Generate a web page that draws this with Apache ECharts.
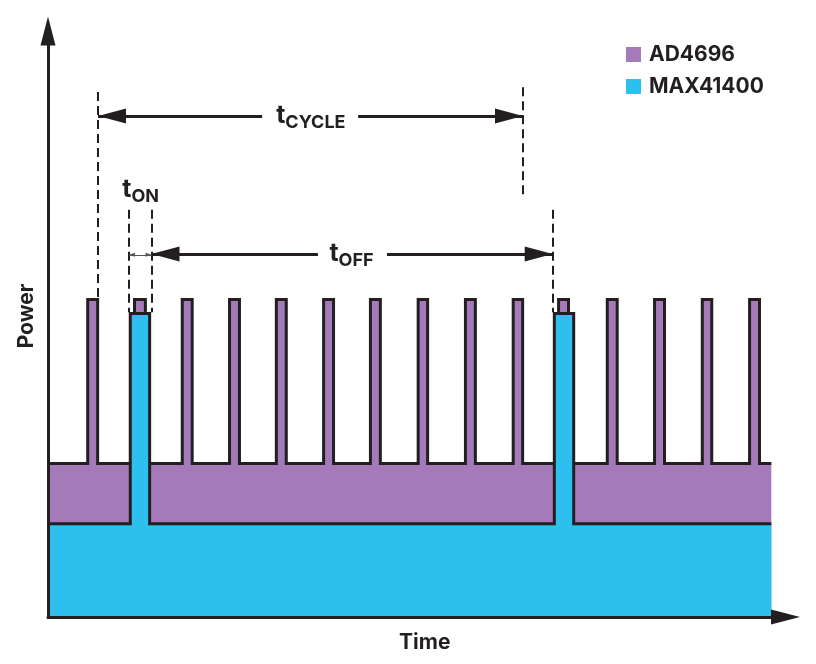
<!DOCTYPE html>
<html>
<head>
<meta charset="utf-8">
<script src="https://cdn.jsdelivr.net/npm/echarts@6/dist/echarts.min.js"></script>
<style>
html,body{margin:0;padding:0;background:#fff;}
#chart{width:816px;height:664px;}
</style>
</head>
<body>
<div id="chart"></div>
<script>
// ---- data (time in arbitrary units, power in arbitrary units) ----
const seriesNames = ['AD4696', 'MAX41400'];
const timeEnd = 153;
const ad4696Levels = [26.2, 54.2];          // [idle total, conversion total]
const ad4696PulseStart = [8.4, 18.3, 28.4, 38.4, 48.3, 58.3, 68.2, 78.3, 88.3, 98.4, 108.0, 118.3, 128.3, 138.4, 148.4];
const ad4696PulseEnd   = [10.5, 20.6, 30.5, 40.5, 50.4, 60.4, 70.3, 80.3, 90.4, 100.4, 110.1, 120.4, 130.4, 140.4, 150.5];
const max41400Levels = [15.9, 51.8];        // [off, on]
const max41400PulseStart = [17.4, 107.1];
const max41400PulseEnd   = [21.5, 111.2];

// annotation geometry (data units)
const dashedLines = [
  [10.58, 89.6, 54.4],   // x, yTop, yBottom  (tCYCLE start)
  [100.47, 90.4, 72.0],  // tCYCLE end
  [17.13, 69.5, 52.0],   // tON start
  [21.89, 69.5, 52.0],   // tON end / tOFF start
  [106.75, 69.5, 52.0]   // tOFF end
];
const tCycle = {from: 10.58, to: 100.47, y: 85.5, gap: [45.3, 65.6], label: [55.6, 85.6], sub: 'CYCLE'};
const tOff   = {from: 21.89, to: 106.75, y: 61.95, gap: [57.1, 71.7], label: [64.2, 62.0], sub: 'OFF'};
const tOn    = {from: 17.13, to: 21.89, y: 61.8, label: [19.6, 73.0], sub: 'ON'};

// ---- build ----
function wave(starts, ends, levels, tEnd) {
  const pts = [[0, levels[0]]];
  for (let i = 0; i < starts.length; i++) {
    pts.push([starts[i], levels[0]], [starts[i], levels[1]], [ends[i], levels[1]], [ends[i], levels[0]]);
  }
  pts.push([tEnd, levels[0]]);
  return pts;
}

const INK = '#231f20';
const PURPLE = '#a47bb8';
const CYAN = '#2dbfee';
const FONT = 'Inter';

const arrowHead = {symbol: 'triangle', symbolSize: [15, 28], symbolOffset: [0, 14]};
const solid = {type: 'solid', width: 3, color: INK};
const dashed = {type: [9, 5], width: 2, color: INK};

function arrowPair(a) {
  return [
    [Object.assign({coord: [a.from, a.y]}, arrowHead), {coord: [a.gap[0], a.y], symbol: 'none'}],
    [{coord: [a.gap[1], a.y], symbol: 'none'}, Object.assign({coord: [a.to, a.y]}, arrowHead)]
  ].map(p => { p[0].lineStyle = solid; return p; });
}

const markLines = [];
dashedLines.forEach(d => {
  markLines.push([{coord: [d[0], d[1]], symbol: 'none', lineStyle: dashed}, {coord: [d[0], d[2]], symbol: 'none'}]);
});
arrowPair(tCycle).forEach(p => markLines.push(p));
arrowPair(tOff).forEach(p => markLines.push(p));
markLines.push([
  {coord: [tOn.from, tOn.y], symbol: 'triangle', symbolSize: [4, 6], symbolOffset: [0, 3], lineStyle: {type: 'solid', width: 1, color: '#555'}},
  {coord: [tOn.to, tOn.y], symbol: 'triangle', symbolSize: [4, 6], symbolOffset: [0, 3]}
]);

const rich = {
  t: {fontFamily: FONT, fontWeight: 'bold', fontSize: 25, color: INK},
  s: {fontFamily: FONT, fontWeight: 'bold', fontSize: 18, color: INK, padding: [14, 0, 0, 0]}
};
const markPoints = [tCycle, tOff, tOn].map(a => ({
  coord: a.label,
  label: {show: true, position: 'inside', formatter: '{t|t}{s|' + a.sub + '}', rich: rich}
}));

const chart = echarts.init(document.getElementById('chart'), null, {renderer: 'canvas'});
chart.setOption({
  animation: false,
  backgroundColor: '#fff',
  grid: {left: 48, right: 30.5, top: 31, bottom: 47, containLabel: false, outerBoundsMode: 'none'},
  legend: {
    orient: 'vertical', left: 621, top: 39, itemWidth: 15, itemHeight: 15, itemGap: 11,
    icon: 'rect', selectedMode: false,
    itemStyle: {borderWidth: 0},
    textStyle: {fontFamily: FONT, fontWeight: 'bold', fontSize: 21, color: INK, padding: [0, 0, 0, 3]},
    data: seriesNames
  },
  xAxis: {
    type: 'value', min: 0, max: 156, z: 10,
    name: 'Time', nameLocation: 'middle', nameGap: 15,
    nameTextStyle: {fontFamily: FONT, fontWeight: 'bold', fontSize: 21, color: INK, padding: [0, 0, 0, 16]},
    axisLine: {show: true, onZero: false, lineStyle: {color: INK, width: 3}, symbol: ['none', 'triangle'], symbolSize: [15, 29]},
    axisTick: {show: false}, axisLabel: {show: false}, splitLine: {show: false}
  },
  yAxis: {
    type: 'value', min: 0, max: 100, z: 10,
    name: 'Power', nameLocation: 'middle', nameGap: 11, nameRotate: 90,
    nameTextStyle: {fontFamily: FONT, fontWeight: 'bold', fontSize: 21, color: INK, padding: [0, 0, 0, 16]},
    axisLine: {show: true, onZero: false, lineStyle: {color: INK, width: 3}, symbol: ['none', 'triangle'], symbolSize: [15, 29]},
    axisTick: {show: false}, axisLabel: {show: false}, splitLine: {show: false}
  },
  series: [
    {
      name: seriesNames[0], type: 'line', data: wave(ad4696PulseStart, ad4696PulseEnd, ad4696Levels, timeEnd),
      showSymbol: false, symbol: 'none', z: 2,
      itemStyle: {color: PURPLE},
      lineStyle: {color: INK, width: 3, join: 'miter', cap: 'butt'},
      areaStyle: {color: PURPLE, opacity: 1}
    },
    {
      name: seriesNames[1], type: 'line', data: wave(max41400PulseStart, max41400PulseEnd, max41400Levels, timeEnd),
      showSymbol: false, symbol: 'none', z: 3,
      itemStyle: {color: CYAN},
      lineStyle: {color: INK, width: 3, join: 'miter', cap: 'butt'},
      areaStyle: {color: CYAN, opacity: 1},
      markLine: {silent: true, animation: false, label: {show: false}, emphasis: {disabled: true}, data: markLines},
      markPoint: {silent: true, animation: false, symbol: 'circle', symbolSize: 1, itemStyle: {color: 'rgba(0,0,0,0)'}, data: markPoints}
    }
  ]
});
</script>
</body>
</html>
